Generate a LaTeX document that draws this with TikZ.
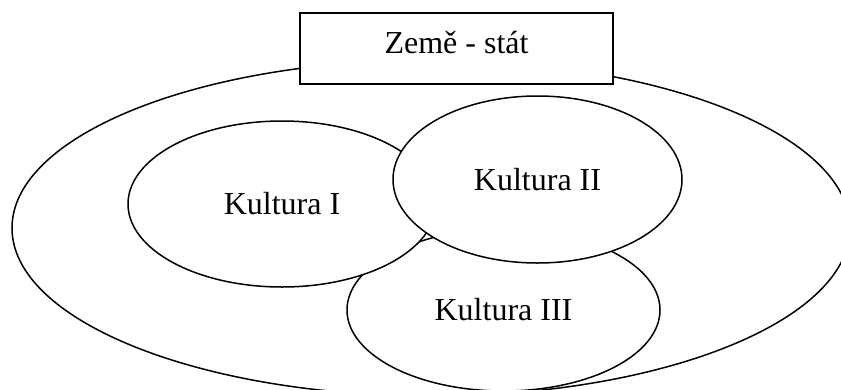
\documentclass[tikz,border=0pt]{standalone}
\usepackage{fontspec}
\setmainfont{Liberation Serif}
\usetikzlibrary{shapes.geometric}

\begin{document}
\begin{tikzpicture}[x=1pt, y=-1pt, line width=1.5pt,
        font=\fontsize{32pt}{38pt}\selectfont,
        kultura/.style={ellipse, draw, fill=white, inner sep=0pt}]
        \useasboundingbox (0,0) rectangle (841,389);
        \clip (0,0) rectangle (841,389);

        % outer ellipse (the state)
        \node[ellipse, draw, minimum width=838pt, minimum height=336pt] (stat) at (431,228) {};

        % three cultures, Kultura III lies under the other two
        \node[kultura, minimum width=313pt, minimum height=162pt] (kult3) at (503.5,310) {Kultura III};
        \node[kultura, minimum width=308pt, minimum height=166pt] (kult1) at (282,204) {Kultura I};
        \node[kultura, minimum width=289pt, minimum height=167pt] (kult2) at (537.5,179.5) {Kultura II};

        % label box on top of the outer ellipse
        \node[draw, fill=white, line width=1.8pt, minimum width=313pt, minimum height=71pt,
            text height=22pt, text depth=13pt] (zeme) at (456.5,48.5) {Země - stát};
\end{tikzpicture}
\end{document}
